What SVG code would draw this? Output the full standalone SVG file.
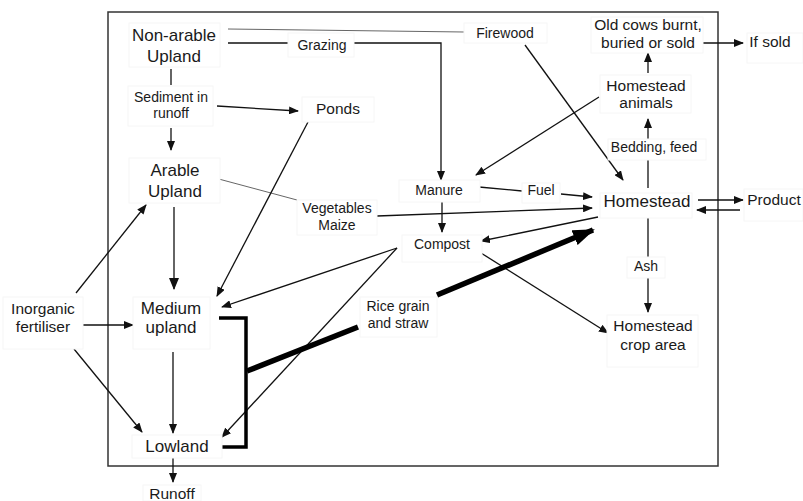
<svg xmlns="http://www.w3.org/2000/svg" width="803" height="501" viewBox="0 0 803 501">
<style>
text{font-family:"Liberation Sans",Arial,sans-serif;fill:#1a1a1a;text-anchor:middle}
.L{font-size:17px}.M{font-size:15.5px}.S{font-size:14px}
.box{fill:#fff;stroke:#f6f6f6;stroke-width:1}
.c{fill:none;stroke:#111;stroke-width:1.3}
.g{fill:none;stroke:#666;stroke-width:1}
</style>
<defs>
<marker id="ah" markerUnits="userSpaceOnUse" markerWidth="10" markerHeight="8" refX="9" refY="4" orient="auto"><path d="M0,0 L10,4 L0,8 z" fill="#111"/></marker>
<marker id="ahm" markerUnits="userSpaceOnUse" markerWidth="12" markerHeight="10" refX="11" refY="5" orient="auto"><path d="M0,0 L12,5 L0,10 z" fill="#111"/></marker>
<marker id="ahb" markerUnits="userSpaceOnUse" markerWidth="22" markerHeight="16" refX="20" refY="8" orient="auto"><path d="M0,0 L22,8 L0,16 z" fill="#000"/></marker>
</defs>
<rect x="108" y="12" width="610" height="454" fill="none" stroke="#333" stroke-width="1.5"/>
<g id="connectors">
<line class="c" x1="171" y1="69" x2="171" y2="85" stroke-width="2.5"/>
<line class="c" x1="171" y1="128" x2="171" y2="150" stroke-width="2" marker-end="url(#ah)"/>
<line class="c" x1="217" y1="106" x2="298" y2="111" stroke-width="2" marker-end="url(#ah)"/>
<line class="g" x1="228" y1="29" x2="464" y2="32"/>
<line class="c" x1="228" y1="43" x2="288" y2="43"/>
<polyline class="c" points="354,43 441,43 441,180" marker-end="url(#ah)"/>
<line class="c" x1="525" y1="45" x2="623" y2="180" marker-end="url(#ah)"/>
<line class="c" x1="702" y1="43" x2="743" y2="43" stroke-width="2" marker-end="url(#ah)"/>
<line class="c" x1="648" y1="73" x2="648" y2="53" stroke-width="2.5" marker-end="url(#ah)"/>
<line class="c" x1="599" y1="97" x2="476" y2="175" marker-end="url(#ah)"/>
<line class="c" x1="648" y1="188" x2="648" y2="160" stroke-width="3"/>
<line class="c" x1="648" y1="139" x2="648" y2="119" stroke-width="3" marker-end="url(#ah)"/>
<line class="c" x1="698" y1="200" x2="743" y2="200" stroke-width="1.5" marker-end="url(#ah)"/>
<line class="c" x1="740" y1="210" x2="697" y2="210" stroke-width="1.5" marker-end="url(#ah)"/>
<line class="c" x1="479" y1="187" x2="522" y2="191"/>
<line class="c" x1="561" y1="194" x2="592" y2="197" marker-end="url(#ah)"/>
<line class="c" x1="377" y1="216" x2="592" y2="208" marker-end="url(#ah)"/>
<line class="g" x1="215" y1="178" x2="297" y2="200"/>
<line class="c" x1="442" y1="202" x2="442" y2="232" marker-end="url(#ah)"/>
<line class="c" x1="598" y1="217" x2="481" y2="241" stroke-width="2" marker-end="url(#ah)"/>
<line class="c" x1="481" y1="253" x2="608" y2="333" marker-end="url(#ah)"/>
<line class="c" x1="648" y1="213" x2="648" y2="257" stroke-width="1.5"/>
<line class="c" x1="648" y1="278" x2="648" y2="312" stroke-width="1.5" marker-end="url(#ah)"/>
<line class="c" x1="397" y1="248" x2="222" y2="307" stroke-width="1" marker-end="url(#ah)"/>
<line class="c" x1="397" y1="248" x2="222" y2="437" stroke-width="1" marker-end="url(#ah)"/>
<line class="c" x1="308" y1="122" x2="217" y2="296" marker-end="url(#ah)"/>
<line class="c" x1="174" y1="207" x2="174" y2="289" stroke-width="4" marker-end="url(#ahm)"/>
<line class="c" x1="173" y1="352" x2="173" y2="433" stroke-width="1.2" marker-end="url(#ah)"/>
<line class="c" x1="173" y1="458" x2="173" y2="482" stroke-width="1.5" marker-end="url(#ah)"/>
<line class="c" x1="76" y1="293" x2="146" y2="205" marker-end="url(#ah)"/>
<line class="c" x1="82" y1="325" x2="133" y2="325" stroke-width="1.5" marker-end="url(#ah)"/>
<line class="c" x1="74" y1="349" x2="142" y2="432" marker-end="url(#ah)"/>
<polyline points="219,318 246,318 246,447 222,447" fill="none" stroke="#000" stroke-width="3.5"/>
<line x1="247" y1="371" x2="358" y2="327" stroke="#000" stroke-width="5.5"/>
<line x1="437" y1="295" x2="593" y2="230" stroke="#000" stroke-width="5.5" marker-end="url(#ahb)"/>
</g>
<g id="n-nonarable"><rect class="box" x="129" y="23" width="91" height="44"/><text class="L" x="174" y="41">Non-arable</text><text class="L" x="174" y="62">Upland</text></g>
<g id="n-sediment"><rect class="box" x="128" y="86" width="85" height="40"/><text class="S" x="171" y="102">Sediment in</text><text class="S" x="171" y="118">runoff</text></g>
<g id="n-ponds"><rect class="box" x="302" y="97" width="72" height="25"/><text class="M" x="338" y="114">Ponds</text></g>
<g id="n-grazing"><rect class="box" x="288" y="33" width="66" height="24"/><text class="S" x="322" y="50">Grazing</text></g>
<g id="n-firewood"><rect class="box" x="464" y="23" width="83" height="20"/><text class="S" x="505" y="38">Firewood</text></g>
<g id="n-arable"><rect class="box" x="129" y="158" width="91" height="45"/><text class="L" x="175" y="176">Arable</text><text class="L" x="175" y="197">Upland</text></g>
<g id="n-vegetables"><rect class="box" x="297" y="200" width="80" height="35"/><text class="S" x="337" y="213">Vegetables</text><text class="S" x="337" y="230">Maize</text></g>
<g id="n-manure"><rect class="box" x="399" y="180" width="81" height="22"/><text class="S" x="439" y="195">Manure</text></g>
<g id="n-fuel"><rect class="box" x="522" y="183" width="38" height="20"/><text class="S" x="541" y="195">Fuel</text></g>
<g id="n-compost"><rect class="box" x="402" y="235" width="80" height="27"/><text class="S" x="442" y="249">Compost</text></g>
<g id="n-homestead"><rect class="box" x="600" y="193" width="92" height="25"/><text class="L" x="647" y="207">Homestead</text></g>
<g id="n-product"><rect class="box" x="744" y="189" width="59" height="32"/><text class="M" x="774" y="205">Product</text></g>
<g id="n-animals"><rect class="box" x="600" y="75" width="91" height="38"/><text class="M" x="646" y="91">Homestead</text><text class="M" x="646" y="108">animals</text></g>
<g id="n-bedding"><rect class="box" x="608" y="139" width="98" height="21"/><text class="S" x="654" y="152">Bedding, feed</text></g>
<g id="n-oldcows"><rect class="box" x="591" y="17" width="112" height="36"/><text class="M" x="648" y="30">Old cows burnt,</text><text class="M" x="648" y="48">buried or sold</text></g>
<g id="n-ifsold"><rect class="box" x="747" y="33" width="56" height="30"/><text class="M" x="770" y="47">If sold</text></g>
<g id="n-ash"><rect class="box" x="627" y="257" width="38" height="21"/><text class="S" x="646" y="271">Ash</text></g>
<g id="n-croparea"><rect class="box" x="607" y="315" width="91" height="52"/><text class="M" x="653" y="331">Homestead</text><text class="M" x="653" y="350">crop area</text></g>
<g id="n-rice"><rect class="box" x="360" y="297" width="77" height="40"/><text class="S" x="398" y="311">Rice grain</text><text class="S" x="398" y="328">and straw</text></g>
<g id="n-medium"><rect class="box" x="133" y="297" width="77" height="52"/><text class="L" x="171" y="314">Medium</text><text class="L" x="171" y="333">upland</text></g>
<g id="n-lowland"><rect class="box" x="132" y="435" width="90" height="23"/><text class="L" x="177" y="452">Lowland</text></g>
<g id="n-runoff"><rect class="box" x="143" y="485" width="58" height="16"/><text class="M" x="172" y="499">Runoff</text></g>
<g id="n-inorganic"><rect class="box" x="3" y="297" width="80" height="52"/><text class="M" x="43" y="314">Inorganic</text><text class="M" x="43" y="332">fertiliser</text></g>
</svg>
